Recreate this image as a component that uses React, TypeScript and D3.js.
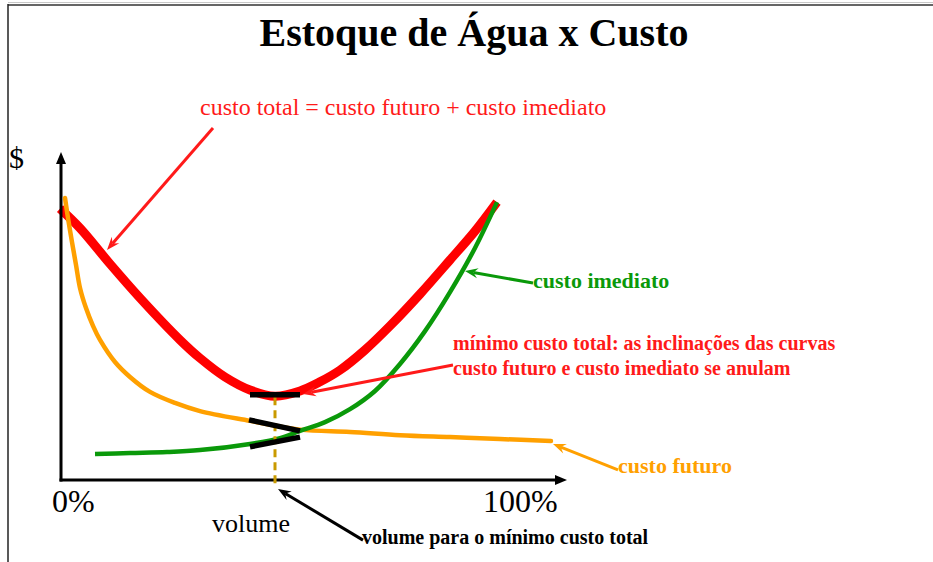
import React from 'react';
import * as d3 from 'd3';

const W = 933;
const H = 562;

// volume (% of storage) and cost ($, arbitrary units)
const futuroVol = [0.6, 1.2, 2.0, 2.8, 3.6, 4.8, 6.2, 7.6, 10.6, 13.6, 17.6, 22.6, 27.6, 37.6, 47.6, 57.6, 67.6, 77.6, 87.6, 97.8];
const futuroCost = [86.8, 80.6, 73.2, 66.2, 59.1, 52.9, 47.4, 43.1, 36.3, 31.7, 27.1, 23.7, 21.2, 18.2, 15.5, 14.8, 13.8, 13.2, 12.6, 12.0];

const imediatoVol = [6.6, 13.6, 21.0, 27.6, 37.6, 43.6, 47.6, 52.6, 57.6, 62.6, 67.6, 72.6, 77.6, 82.6, 87.0];
const imediatoCost = [8.0, 8.3, 8.6, 9.2, 11.1, 12.9, 15.1, 17.8, 21.8, 27.4, 35.7, 45.8, 57.8, 71.4, 85.5];

const totalVol = [-0.4, 3.6, 9.6, 15.6, 23.6, 27.6, 32.6, 37.6, 42.6, 47.6, 51.6, 55.6, 60.6, 65.6, 71.6, 77.6, 82.6, 87.0];
const totalCost = [83.5, 77.5, 66.5, 56.0, 43.1, 37.5, 31.7, 27.7, 25.8, 27.4, 30.2, 33.8, 40.0, 47.4, 57.2, 67.7, 76.6, 85.5];

const minVolume = 42.6;
const minCost = 25.5;

// tangent segments [v1, c1, v2, c2]
const tangents = [
  [37.6, 26.2, 47.6, 26.2],
  [37.4, 18.5, 47.6, 15.1],
  [37.6, 10.2, 47.6, 13.2],
];

// annotation arrows [fromV, fromC, toV, toC, color, width]
const arrows: [number, number, number, number, string, number][] = [
  [30.2, 108.3, 9.0, 70.8, '#ff1a1a', 3],
  [78.2, 35.4, 48.2, 26.5, '#ff1a1a', 3],
  [94.2, 60.6, 80.6, 64.3, '#0a990a', 3],
  [111.2, 3.1, 98.2, 11.1, '#ffa000', 3],
  [60.2, -18.5, 43.2, -2.8, '#000000', 3],
];

const tickLabels = ['0%', '100%'];

const x = d3.scaleLinear().domain([0, 100]).range([62, 562]);
const y = d3.scaleLinear().domain([0, 100]).range([480, 155]);

const line = d3
  .line<[number, number]>()
  .x((d) => x(d[0]))
  .y((d) => y(d[1]))
  .curve(d3.curveCatmullRom.alpha(0.5));

function zip(a: number[], b: number[]): [number, number][] {
  return a.map((v, i) => [v, b[i]]);
}

function Arrow({ x1, y1, x2, y2, color, width, len = 13, wid = 10 }: any) {
  const a = Math.atan2(y2 - y1, x2 - x1);
  const c = Math.cos(a);
  const s = Math.sin(a);
  const bx = x2 - len * c;
  const by = y2 - len * s;
  const nx = x2 - len * 0.65 * c;
  const ny = y2 - len * 0.65 * s;
  const pts = [
    [x2, y2],
    [bx - (wid / 2) * s, by + (wid / 2) * c],
    [nx, ny],
    [bx + (wid / 2) * s, by - (wid / 2) * c],
  ];
  return (
    <g>
      <line x1={x1} y1={y1} x2={nx} y2={ny} stroke={color} strokeWidth={width} />
      <polygon points={pts.map((p) => p.join(',')).join(' ')} fill={color} />
    </g>
  );
}

export default function App() {
  const serif = "'Liberation Serif', 'Times New Roman', serif";
  const x0 = x(0);
  const yAxisTop = 152;
  const xAxisEnd = 567;
  const yb = y(0);
  return (
    <svg
      width={W}
      height={H}
      viewBox={`0 0 ${W} ${H}`}
      style={{ position: 'absolute', left: 0, top: 0, background: '#fff' }}
      fontFamily={serif}
    >
      <rect x={0} y={0} width={W} height={H} fill="#fff" />
      {/* frame */}
      <line x1={8} y1={2.5} x2={W} y2={2.5} stroke="#c8c8c8" strokeWidth={1} />
      <line x1={8} y1={5} x2={W} y2={5} stroke="#666" strokeWidth={2} />
      <line x1={8} y1={4} x2={8} y2={H} stroke="#222" strokeWidth={1.5} />

      {/* title */}
      <text x={474} y={46} textAnchor="middle" fontSize={40} fontWeight="bold" fill="#000">
        Estoque de Água x Custo
      </text>
      <text x={200} y={115} fontSize={24} fill="#ff1a1a">
        custo total = custo futuro + custo imediato
      </text>
      <text x={9} y={168} fontSize={30} fill="#000">$</text>

      {/* total cost curve */}
      <path d={line(zip(totalVol, totalCost)) || ''} fill="none" stroke="#ff0000" strokeWidth={9} />

      {/* axes */}
      <line x1={x0 - 1} y1={yb + 1.5} x2={x0 - 1} y2={yAxisTop + 10} stroke="#000" strokeWidth={3} />
      <polygon points={`${x0 - 1},${yAxisTop} ${x0 - 6},${yAxisTop + 12} ${x0 + 4},${yAxisTop + 12}`} fill="#000" />
      <line x1={x0 - 2.5} y1={yb} x2={xAxisEnd - 10} y2={yb} stroke="#000" strokeWidth={3} />
      <polygon points={`${xAxisEnd},${yb} ${xAxisEnd - 12},${yb - 5} ${xAxisEnd - 12},${yb + 5}`} fill="#000" />

      {/* future cost & immediate cost */}
      <path d={line(zip(futuroVol, futuroCost)) || ''} fill="none" stroke="#ffa000" strokeWidth={4.5} strokeLinecap="round" />
      <path d={line(zip(imediatoVol, imediatoCost)) || ''} fill="none" stroke="#0a990a" strokeWidth={4.5} />

      {/* dashed min line */}
      <line
        x1={x(minVolume)}
        y1={y(minCost)}
        x2={x(minVolume)}
        y2={y(-2)}
        stroke="#c99a00"
        strokeWidth={3}
        strokeDasharray="8 5"
      />

      {/* tangents */}
      {tangents.map((t, i) => (
        <line key={i} x1={x(t[0])} y1={y(t[1])} x2={x(t[2])} y2={y(t[3])} stroke="#000" strokeWidth={5.5} />
      ))}

      {/* arrows */}
      {arrows.map((a, i) => (
        <Arrow key={i} x1={x(a[0])} y1={y(a[1])} x2={x(a[2])} y2={y(a[3])} color={a[4]} width={a[5]} />
      ))}

      {/* tick labels */}
      <text x={x(0) - 10} y={512} fontSize={32} fill="#000">{tickLabels[0]}</text>
      <text x={483} y={512} fontSize={32} fill="#000">{tickLabels[1]}</text>
      <text x={212} y={532} fontSize={26} fill="#000">volume</text>

      {/* annotations */}
      <text x={533} y={288} fontSize={22} fontWeight="bold" fill="#0a990a">custo imediato</text>
      <text x={453} y={350} fontSize={20} fontWeight="bold" fill="#ff1a1a">
        mínimo custo total: as inclinações das curvas
      </text>
      <text x={453} y={375} fontSize={20} fontWeight="bold" fill="#ff1a1a">
        custo futuro e custo imediato se anulam
      </text>
      <text x={618} y={473} fontSize={22} fontWeight="bold" fill="#ffa000">custo futuro</text>
      <text x={362} y={544} fontSize={20} fontWeight="bold" fill="#000">
        volume para o mínimo custo total
      </text>
    </svg>
  );
}
